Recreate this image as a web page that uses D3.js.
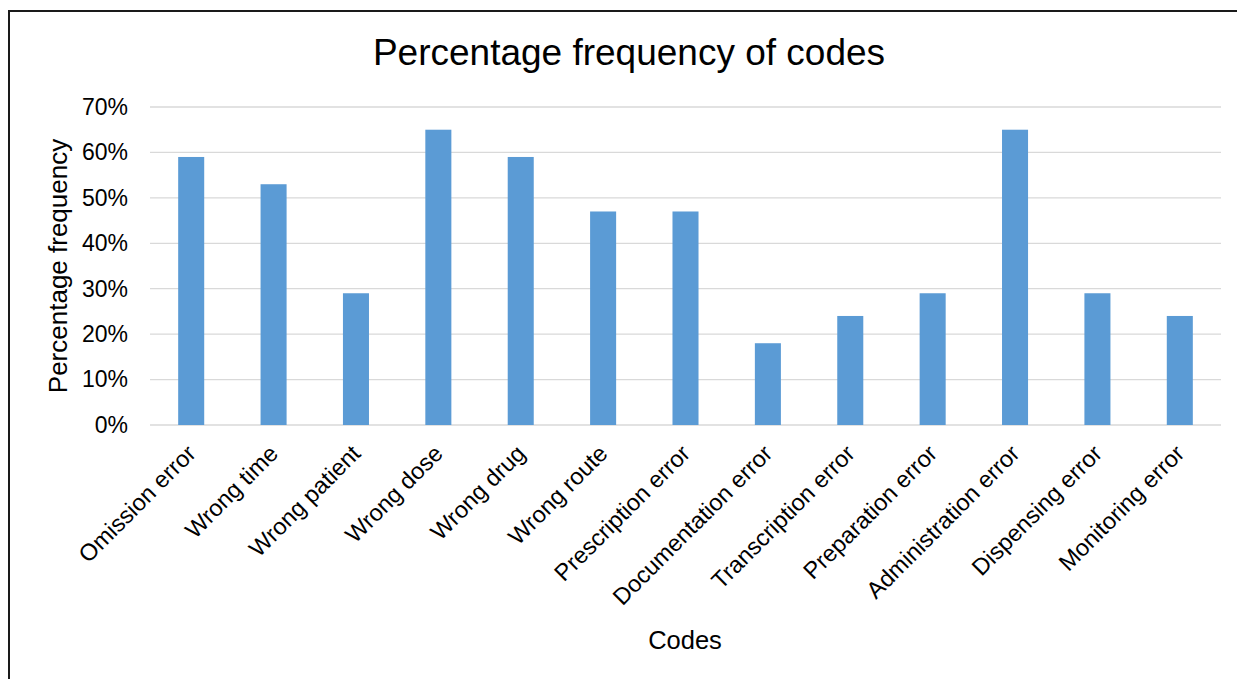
<!DOCTYPE html>
<html>
<head>
<meta charset="utf-8">
<script src="https://cdn.jsdelivr.net/npm/d3@7"></script>
<style>
  body { margin: 0; background: #fff; }
  svg { display: block; font-family: 'Liberation Sans', Arial, sans-serif; }
</style>
</head>
<body>
<svg id="chart"></svg>
<script>
// Chart data
const codes = ['Omission error', 'Wrong time', 'Wrong patient', 'Wrong dose', 'Wrong drug',
  'Wrong route', 'Prescription error', 'Documentation error', 'Transcription error',
  'Preparation error', 'Administration error', 'Dispensing error', 'Monitoring error'];
const percents = [59, 53, 29, 65, 59, 47, 47, 18, 24, 29, 65, 29, 24];
const yTicks = [0, 10, 20, 30, 40, 50, 60, 70];

class BarChart {

  constructor(_config) {
    this.config = {
      parentElement: _config.parentElement,
      containerWidth: _config.containerWidth || 1237,
      containerHeight: _config.containerHeight || 679,
      margin: _config.margin || { top: 107, bottom: 254, right: 16, left: 150 }
    }

    this.width = this.config.containerWidth - this.config.margin.left - this.config.margin.right;
    this.height = this.config.containerHeight - this.config.margin.top - this.config.margin.bottom;
  }

  initVis() {
    let vis = this;

    vis.svg = d3.select(vis.config.parentElement)
        .attr('width', vis.config.containerWidth)
        .attr('height', vis.config.containerHeight);

    // Outer frame (runs off the right and bottom edges)
    vis.svg.append('rect')
        .attr('x', 9)
        .attr('y', 11)
        .attr('width', 1300)
        .attr('height', 700)
        .attr('fill', 'none')
        .attr('stroke', '#1a1a1a')
        .attr('stroke-width', 2);

    vis.chart = vis.svg.append('g')
        .attr('transform', `translate(${vis.config.margin.left},${vis.config.margin.top})`);

    // Scales
    vis.x = d3.scaleBand()
        .domain(codes)
        .range([0, vis.width])
        .paddingInner(0.684)
        .paddingOuter(0.342);

    vis.y = d3.scaleLinear()
        .domain([0, 70])
        .range([vis.height, 0]);

    // Gridlines
    vis.chart.selectAll('.grid')
        .data(yTicks)
      .join('line')
        .attr('class', 'grid')
        .attr('x1', 0)
        .attr('x2', vis.width)
        .attr('y1', d => vis.y(d))
        .attr('y2', d => vis.y(d))
        .attr('stroke', '#d9d9d9')
        .attr('stroke-width', 1.3);

    // Y axis labels
    vis.yAxis = d3.axisLeft(vis.y)
        .tickValues(yTicks)
        .tickFormat(d => d + '%')
        .tickSize(0)
        .tickPadding(22);

    vis.yAxisG = vis.chart.append('g')
        .call(vis.yAxis);
    vis.yAxisG.select('.domain').remove();
    vis.yAxisG.selectAll('text')
        .attr('font-size', 23)
        .attr('font-family', null)
        .attr('fill', '#000');

    // X axis labels, rotated
    vis.chart.selectAll('.xlabel')
        .data(codes)
      .join('text')
        .attr('class', 'xlabel')
        .attr('transform', d => `translate(${vis.x(d) + vis.x.bandwidth() / 2 + 6},${vis.height + 30}) rotate(-45)`)
        .attr('text-anchor', 'end')
        .attr('font-size', 23.5)
        .attr('fill', '#000')
        .text(d => d);

    // Title
    vis.svg.append('text')
        .attr('x', 629)
        .attr('y', 65)
        .attr('text-anchor', 'middle')
        .attr('font-size', 37)
        .attr('fill', '#000')
        .text('Percentage frequency of codes');

    // Y axis title
    vis.svg.append('text')
        .attr('transform', 'translate(67,266) rotate(-90)')
        .attr('text-anchor', 'middle')
        .attr('font-size', 26)
        .attr('fill', '#000')
        .text('Percentage frequency');

    // X axis title
    vis.svg.append('text')
        .attr('x', 685)
        .attr('y', 649)
        .attr('text-anchor', 'middle')
        .attr('font-size', 25.5)
        .attr('fill', '#000')
        .text('Codes');
  }

  render() {
    let vis = this;

    vis.chart.selectAll('.bar')
        .data(percents)
      .join('rect')
        .attr('class', 'bar')
        .attr('x', (d, i) => vis.x(codes[i]))
        .attr('y', d => vis.y(d))
        .attr('width', vis.x.bandwidth())
        .attr('height', d => vis.height - vis.y(d))
        .attr('fill', '#5b9bd5');
  }
}

const barChart = new BarChart({ parentElement: '#chart' });
barChart.initVis();
barChart.render();
</script>
</body>
</html>
